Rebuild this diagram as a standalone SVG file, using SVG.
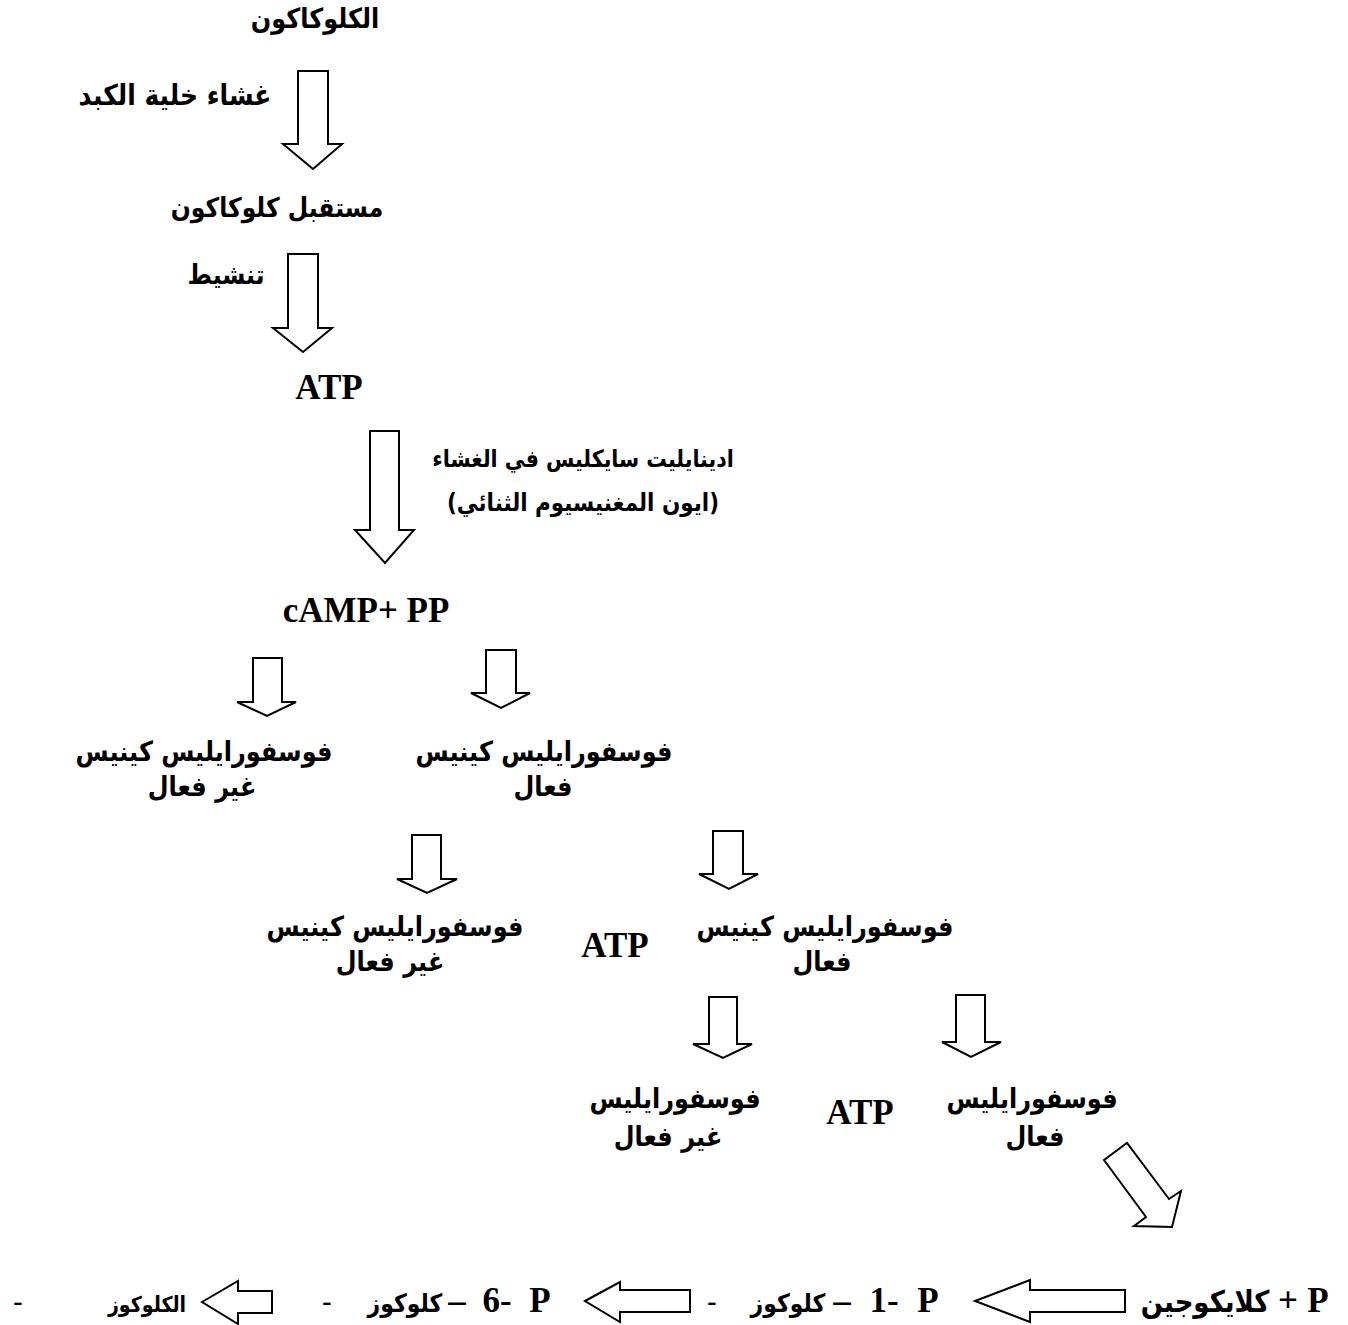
<svg xmlns="http://www.w3.org/2000/svg" width="1348" height="1325" viewBox="0 0 1348 1325">
<style>
.ar{font-family:"DejaVu Sans",sans-serif;font-weight:bold;fill:#000;text-anchor:middle;font-size:24px}
.a20{font-size:20.5px}
.lat{font-family:"Liberation Serif",serif;font-weight:bold;fill:#000;text-anchor:middle;font-size:35px}
.arrow{fill:#fff;stroke:#000;stroke-width:2;stroke-linejoin:miter}
</style>
<rect width="1348" height="1325" fill="#fff"/>
<g id="connectors">
<polygon class="arrow" points="298,71 328,71 328,144 342,144 313,169 283,144 298,144"/>
<polygon class="arrow" points="288,254 318,254 318,328 332,328 303,352 273,328 288,328"/>
<polygon class="arrow" points="370,431 399,431 399,530 414,530 385,563 355,530 370,530"/>
<polygon class="arrow" points="253,658 282,658 282,702 296,702 267,716 237,702 253,702"/>
<polygon class="arrow" points="486,650 516,650 516,693 530,693 501,708 471,693 486,693"/>
<polygon class="arrow" points="412,835 441,835 441,879 457,879 427,893 397,879 412,879"/>
<polygon class="arrow" points="713,831 743,831 743,874 758,874 729,889 699,874 713,874"/>
<polygon class="arrow" points="709,997 737,997 737,1044 752,1044 723,1058 693,1044 709,1044"/>
<polygon class="arrow" points="956,995 985,995 985,1042 1001,1042 971,1057 942,1042 956,1042"/>
<polygon class="arrow" points="1104,1160 1127,1143 1169,1199 1181,1191 1172,1227 1134,1226 1146,1217"/>
<polygon class="arrow" points="975,1301 1030,1280 1030,1290 1125,1290 1125,1312 1030,1312 1030,1322"/>
<polygon class="arrow" points="585,1301 620,1282 620,1290 690,1290 690,1312 620,1312 620,1322"/>
<polygon class="arrow" points="202,1302 238,1281 238,1291 272,1291 272,1313 238,1313 238,1324"/>
</g>
<g id="glucagon"><text class="ar" transform="translate(315 28) scale(1 1.15)">الكلوكاكون</text></g>
<g id="label-membrane"><text class="ar" style="font-size:25px" transform="translate(175 105) scale(1 1.15)">غشاء خلية الكبد</text></g>
<g id="receptor"><text class="ar" style="font-size:23.5px" transform="translate(277 217) scale(1 1.15)">مستقبل كلوكاكون</text></g>
<g id="label-activation"><text class="ar" style="font-size:23.5px" transform="translate(226 284) scale(1 1.15)">تنشيط</text></g>
<g id="atp1"><text class="lat" x="329" y="399">ATP</text></g>
<g id="label-adenylate"><text class="ar a20" transform="translate(583 467) scale(1 1.15)">ادينايليت سايكليس في الغشاء</text><text class="ar" style="font-size:21.5px" transform="translate(583 511) scale(1 1.15)">(ايون المغنيسيوم الثنائي)</text></g>
<g id="camp"><text class="lat" x="366" y="622">cAMP+ PP</text></g>
<g id="pk-inactive-1"><text class="ar" transform="translate(204 761) scale(1 1.15)">فوسفورايليس كينيس</text><text class="ar" transform="translate(202 796) scale(1 1.15)">غير فعال</text></g>
<g id="pk-active-1"><text class="ar" transform="translate(544 761) scale(1 1.15)">فوسفورايليس كينيس</text><text class="ar" transform="translate(543 796) scale(1 1.15)">فعال</text></g>
<g id="pk-inactive-2"><text class="ar" transform="translate(395 936) scale(1 1.15)">فوسفورايليس كينيس</text><text class="ar" transform="translate(390 971) scale(1 1.15)">غير فعال</text></g>
<g id="atp2"><text class="lat" x="615" y="957">ATP</text></g>
<g id="pk-active-2"><text class="ar" transform="translate(825 936) scale(1 1.15)">فوسفورايليس كينيس</text><text class="ar" transform="translate(822 971) scale(1 1.15)">فعال</text></g>
<g id="p-inactive"><text class="ar" transform="translate(675 1108) scale(1 1.15)">فوسفورايليس</text><text class="ar" transform="translate(668 1146) scale(1 1.15)">غير فعال</text></g>
<g id="atp3"><text class="lat" x="860" y="1124">ATP</text></g>
<g id="p-active"><text class="ar" transform="translate(1032 1108) scale(1 1.15)">فوسفورايليس</text><text class="ar" transform="translate(1035 1146) scale(1 1.15)">فعال</text></g>
<g id="glycogen"><text class="ar" style="font-size:26px" transform="translate(1205 1312) scale(1 1.15)">كلايكوجين</text><text class="lat" x="1288" y="1312">+</text><text class="lat" x="1318" y="1312">P</text></g>
<g id="g1p"><text class="lat" x="712" y="1310" style="font-size:28px">-</text><text class="ar" style="font-size:22px" transform="translate(788 1312) scale(1 1.15)">كلوكوز</text><text class="lat" x="842" y="1312">–</text><text class="lat" x="884" y="1312">1-</text><text class="lat" x="928" y="1312">P</text></g>
<g id="g6p"><text class="lat" x="327" y="1310" style="font-size:28px">-</text><text class="ar" style="font-size:22px" transform="translate(405 1312) scale(1 1.15)">كلوكوز</text><text class="lat" x="457" y="1312">–</text><text class="lat" x="497" y="1312">6-</text><text class="lat" x="540" y="1312">P</text></g>
<g id="glucose"><text class="lat" x="18" y="1310" style="font-size:28px">-</text><text class="ar" style="font-size:19px" transform="translate(147 1312) scale(1 1.15)">الكلوكوز</text></g>
</svg>
